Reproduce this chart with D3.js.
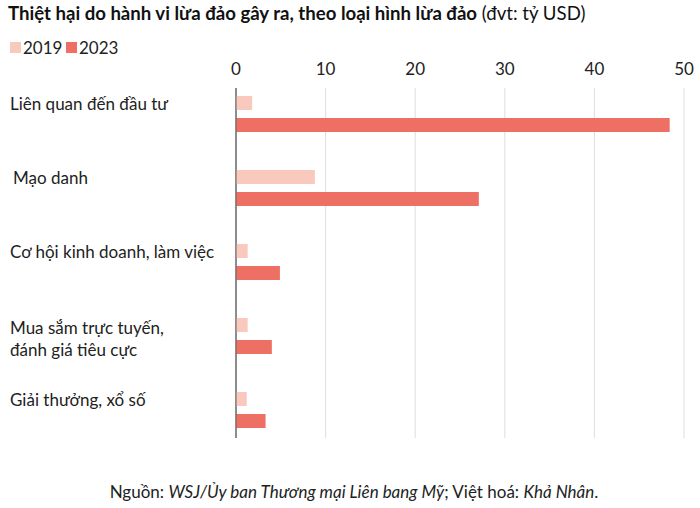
<!DOCTYPE html><html><head><meta charset="utf-8"><script src="https://cdn.jsdelivr.net/npm/d3@7"></script>
<style>body{margin:0;background:#fff;font-family:Lato,sans-serif}</style></head><body><svg id="c" width="700" height="508"></svg>
<script>
const categories=[["Liên quan đến đầu tư"],["Mạo danh"],["Cơ hội kinh doanh, làm việc"],["Mua sắm trực tuyến,","đánh giá tiêu cực"],["Giải thưởng, xổ số"]];
const v2019=[1.8,8.8,1.3,1.3,1.2];
const v2023=[48.4,27.1,4.9,4.0,3.3];
const ticks=[0,10,20,30,40,50];
const colors={y2019:"#f9c9bd",y2023:"#ee6f63"};
const svg=d3.select("#c");
const x=d3.scaleLinear().domain([0,50]).range([236,684]);
const y=d3.scaleBand().domain(d3.range(5)).range([88,458]);
svg.append("text").attr("x",8).attr("y",20).attr("font-size",18.6).attr("fill","#111")
 .html('<tspan font-weight="bold">Thiệt hại do hành vi lừa đảo gây ra, theo loại hình lừa đảo</tspan> (đvt: tỷ USD)');
[["2019",colors.y2019,10],["2023",colors.y2023,66]].forEach(d=>{
 svg.append("rect").attr("x",d[2]).attr("y",42).attr("width",11).attr("height",11).attr("fill",d[1]);
 svg.append("text").attr("x",d[2]+13).attr("y",54).attr("font-size",17).attr("fill","#222").text(d[0]);});
ticks.forEach(t=>{
 svg.append("line").attr("x1",x(t)).attr("x2",x(t)).attr("y1",88).attr("y2",438).attr("stroke",t?"#ddd":"#666").attr("stroke-width",1);
 svg.append("text").attr("x",x(t)).attr("y",75).attr("text-anchor","middle").attr("font-size",17).attr("fill","#222").text(t);});
const g=svg.append("g");
g.selectAll(".a").data(v2019).join("rect").attr("x",x(0)).attr("y",(d,i)=>y(i)+8).attr("height",14).attr("width",d=>x(d)-x(0)).attr("fill",colors.y2019);
g.selectAll(".b").data(v2023).join("rect").attr("x",x(0)).attr("y",(d,i)=>y(i)+30).attr("height",14).attr("width",d=>x(d)-x(0)).attr("fill",colors.y2023);
svg.append("line").attr("x1",x(0)).attr("x2",x(0)).attr("y1",88).attr("y2",438).attr("stroke","#666");
categories.forEach((c,i)=>{
 const t=svg.append("text").attr("font-size",17).attr("fill","#222");
 const base=c.length>1?y(i)+24:y(i)+22;
 c.forEach((l,j)=>t.append("tspan").attr("x",i==1?13:10).attr("y",base+j*22).text(l));});
svg.append("text").attr("x",354).attr("y",498).attr("text-anchor","middle").attr("font-size",17).attr("fill","#222")
 .html('Nguồn: <tspan font-style="italic">WSJ/Ủy ban Thương mại Liên bang Mỹ</tspan>; Việt hoá: <tspan font-style="italic">Khả Nhân</tspan>.');
</script></body></html>
